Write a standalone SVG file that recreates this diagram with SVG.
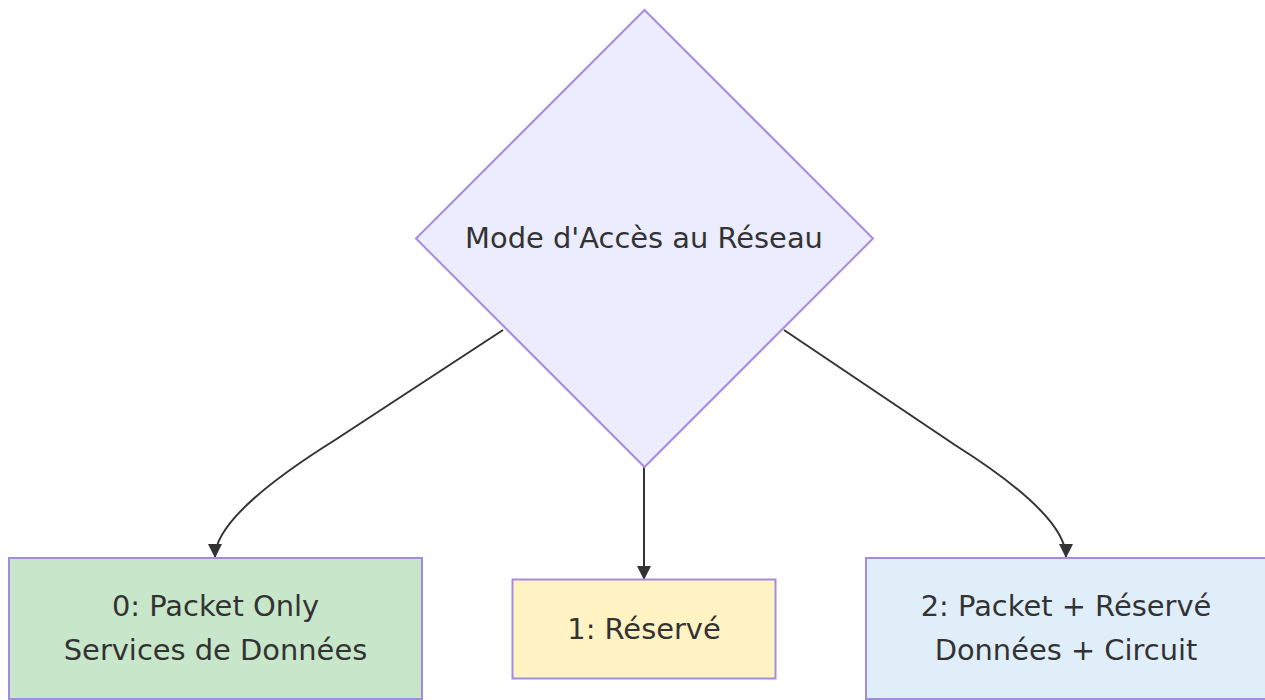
<svg xmlns="http://www.w3.org/2000/svg" width="1265" height="700" viewBox="0 0 1265 700">
<style>
.lbl{font-family:"DejaVu Sans","Liberation Sans",sans-serif;font-size:28.9px;fill:#333;text-anchor:middle}
.node{stroke:#A58BE0;stroke-width:2}
.edge{fill:none;stroke:#333;stroke-width:2}
</style>
<defs>
<marker id="arr" markerUnits="userSpaceOnUse" markerWidth="14" markerHeight="14" refX="13" refY="7" orient="auto">
<path d="M0,0 L14,7 L0,14 z" fill="#333"/>
</marker>
</defs>
<rect width="1265" height="700" fill="#fff"/>
<g id="edges">
<path class="edge" d="M503,330 L335,440 Q215,515 215,557" marker-end="url(#arr)"/>
<path class="edge" d="M644,467 L644,579" marker-end="url(#arr)"/>
<path class="edge" d="M784,330 L955,445 Q1066,515 1066,557" marker-end="url(#arr)"/>
</g>
<g id="mode">
<polygon class="node" points="644.5,10 873,238.5 644.5,467 416,238.5" fill="#ECECFF" stroke-width="1.5"/>
<text class="lbl" x="644" y="248">Mode d'Accès au Réseau</text>
</g>
<g id="m0">
<rect class="node" x="9" y="558" width="413" height="141" fill="#C8E6C9"/>
<text class="lbl" x="215.5" y="616">0: Packet Only</text>
<text class="lbl" x="215.5" y="660">Services de Données</text>
</g>
<g id="m1">
<rect class="node" x="512.5" y="579.5" width="263" height="99" fill="#FFF3C4"/>
<text class="lbl" x="644" y="638.5">1: Réservé</text>
</g>
<g id="m2">
<rect class="node" x="866" y="558" width="400" height="141" fill="#E0EEFA"/>
<text class="lbl" x="1066" y="616">2: Packet + Réservé</text>
<text class="lbl" x="1066" y="660">Données + Circuit</text>
</g>
</svg>
